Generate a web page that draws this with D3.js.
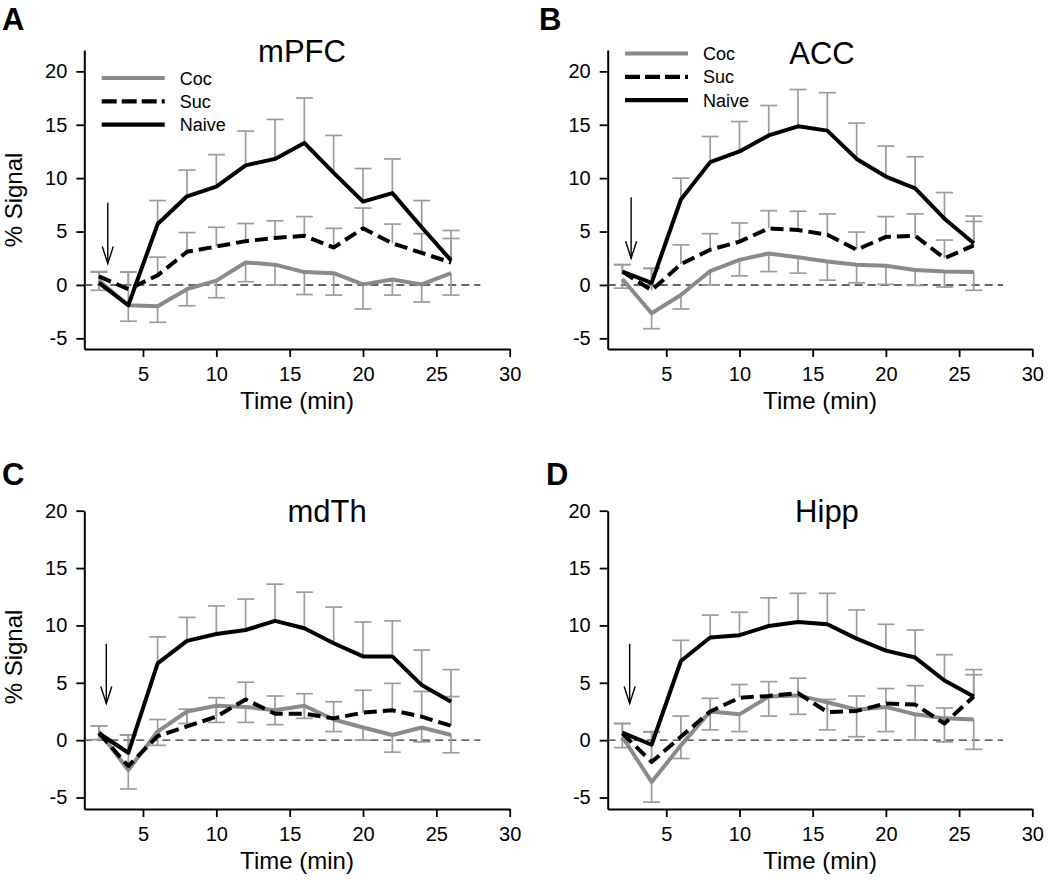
<!DOCTYPE html>
<html>
<head>
<meta charset="utf-8">
<script src="https://cdn.jsdelivr.net/npm/d3@7"></script>
<style>
  html, body { margin: 0; padding: 0; background: #fff; }
  svg { display: block; font-family: "Liberation Sans", Arial, sans-serif; }
</style>
</head>
<body>
<svg id="chart" width="1050" height="885"></svg>
<script>
// ---- data ----
const times = [2, 4, 6, 8, 10, 12, 14, 16, 18, 20, 22, 24, 26];
const xTicks = [5, 10, 15, 20, 25, 30];
const yTicks = [-5, 0, 5, 10, 15, 20];
const seriesNames = ["Coc", "Suc", "Naive"];

// mPFC
const mpfcCoc      = [0.4, -1.9, -2.0, -0.4, 0.4, 2.1, 1.9, 1.2, 1.1, 0.05, 0.5, 0.05, 1.1];
const mpfcCocErr   = [0.9, 1.5, 1.5, 1.55, 1.6, 1.8, 1.9, 2.1, 2.05, 2.3, 1.45, 1.65, 2.05];
const mpfcSuc      = [0.8, -0.4, 0.9, 3.1, 3.6, 4.1, 4.4, 4.6, 3.5, 5.3, 3.9, 3.0, 2.1];
const mpfcSucErr   = [0.45, 1.6, 1.7, 1.8, 1.8, 1.65, 1.6, 1.8, 1.8, 1.9, 1.8, 1.8, 2.25];
const mpfcNaive    = [0.2, -1.9, 5.7, 8.3, 9.2, 11.2, 11.8, 13.3, 10.5, 7.8, 8.6, 5.4, 2.3];
const mpfcNaiveErr = [1.0, 3.1, 2.2, 2.45, 3.0, 3.2, 3.7, 4.2, 3.5, 3.1, 3.2, 2.5, 2.8];

// ACC
const accCoc      = [0.55, -2.65, -0.95, 1.3, 2.35, 2.95, 2.6, 2.2, 1.9, 1.8, 1.4, 1.25, 1.2];
const accCocErr   = [0.85, 1.45, 1.3, 1.3, 1.5, 1.7, 1.5, 1.75, 1.7, 1.75, 1.45, 1.45, 1.7];
const accSuc      = [1.25, -0.5, 1.95, 3.3, 4.05, 5.3, 5.15, 4.7, 3.3, 4.5, 4.6, 2.5, 3.7];
const accSucErr   = [0.65, 2.05, 1.8, 1.5, 1.75, 1.65, 1.75, 1.95, 1.65, 1.9, 2.05, 1.7, 2.25];
const accNaive    = [1.25, 0.2, 8.0, 11.5, 12.5, 14.0, 14.85, 14.45, 11.8, 10.15, 9.05, 6.2, 3.9];
const accNaiveErr = [0.65, 1.35, 2.0, 2.4, 2.8, 2.8, 3.45, 3.55, 3.35, 2.85, 2.95, 2.45, 2.55];

// mdTh
const mdthCoc      = [0.75, -2.6, 0.75, 2.5, 3.0, 2.9, 2.6, 3.0, 1.8, 1.1, 0.45, 1.1, 0.45];
const mdthCocErr   = [0.7, 1.65, 1.2, 1.05, 1.45, 1.35, 1.25, 1.1, 1.05, 1.1, 1.5, 1.25, 1.55];
const mdthSuc      = [0.6, -2.25, 0.35, 1.2, 2.05, 3.55, 2.3, 2.3, 1.9, 2.4, 2.6, 2.05, 1.25];
const mdthSucErr   = [0.65, 2.7, 1.45, 1.5, 1.65, 1.5, 1.55, 1.75, 1.45, 1.95, 2.35, 2.2, 2.55];
const mdthNaive    = [0.6, -1.1, 6.7, 8.65, 9.25, 9.6, 10.4, 9.75, 8.45, 7.3, 7.3, 4.8, 3.35];
const mdthNaiveErr = [0.65, 1.55, 2.3, 2.05, 2.45, 2.7, 3.2, 3.15, 3.15, 3.0, 3.1, 3.05, 2.8];

// Hipp
const hippCoc      = [0.3, -3.65, -0.45, 2.5, 2.25, 3.8, 3.9, 3.3, 2.65, 2.9, 2.25, 1.9, 1.8];
const hippCocErr   = [0.95, 1.75, 1.15, 1.6, 1.5, 1.7, 1.65, 2.4, 2.35, 2.15, 2.25, 2.05, 2.6];
const hippSuc      = [0.6, -1.9, 0.3, 2.5, 3.7, 3.85, 4.1, 2.45, 2.55, 3.2, 3.1, 1.45, 3.8];
const hippSucErr   = [0.85, 2.6, 1.8, 1.15, 1.15, 1.25, 1.3, 1.1, 1.3, 1.3, 1.65, 1.35, 1.9];
const hippNaive    = [0.65, -0.4, 6.9, 8.95, 9.15, 9.95, 10.3, 10.1, 8.85, 7.8, 7.2, 5.2, 3.8];
const hippNaiveErr = [0.8, 1.15, 1.8, 1.95, 2.0, 2.45, 2.5, 2.7, 2.5, 2.3, 2.4, 2.25, 2.35];

// injection arrow (time, top value, tip value)
const arrowTime = [2.6, 2.6, 2.5, 2.5];
const arrowTop  = [7.7, 8.2, 8.4, 8.4];
const arrowTip  = [2.0, 2.5, 3.2, 3.2];

const panelLetters = ["A", "B", "C", "D"];
const panelTitles = ["mPFC", "ACC", "mdTh", "Hipp"];
const panelData = [
  {coc: mpfcCoc, cocErr: mpfcCocErr, suc: mpfcSuc, sucErr: mpfcSucErr, naive: mpfcNaive, naiveErr: mpfcNaiveErr},
  {coc: accCoc, cocErr: accCocErr, suc: accSuc, sucErr: accSucErr, naive: accNaive, naiveErr: accNaiveErr},
  {coc: mdthCoc, cocErr: mdthCocErr, suc: mdthSuc, sucErr: mdthSucErr, naive: mdthNaive, naiveErr: mdthNaiveErr},
  {coc: hippCoc, cocErr: hippCocErr, suc: hippSuc, sucErr: hippSucErr, naive: hippNaive, naiveErr: hippNaiveErr}
];

// ---- layout ----
const layout = [
  {x0: 84.3, x1: 509.7, y0: 349, y1: 50, yMax: 22, title: [302, 62], letter: [2, 30], legend: [101.7, 78], ylabel: 200},
  {x0: 607.7, x1: 1032.3, y0: 349, y1: 50, yMax: 22, title: [822, 64], letter: [539, 30], legend: [625, 53.5], ylabel: null},
  {x0: 84.3, x1: 509.7, y0: 809, y1: 510.7, yMax: 20, title: [327, 522], letter: [2, 485], legend: null, ylabel: 657},
  {x0: 607.7, x1: 1032.3, y0: 809, y1: 510.7, yMax: 20, title: [827, 522], letter: [546, 485], legend: null, ylabel: null}
];

const cocColor = "#8a8a8a";
const errColor = "#9c9c9c";
const styles = {
  Coc:   {stroke: cocColor, dash: null, width: 4},
  Suc:   {stroke: "#000", dash: "13,6", width: 4},
  Naive: {stroke: "#000", dash: null, width: 4}
};

const svg = d3.select("#chart");

layout.forEach((L, i) => {
  const d = panelData[i];
  const x = d3.scaleLinear().domain([1, 30]).range([L.x0, L.x1]);
  const y = d3.scaleLinear().domain([-6, L.yMax]).range([L.y0, L.y1]);
  const g = svg.append("g");

  // axes
  const xAxis = d3.axisBottom(x).tickValues(xTicks).tickSizeInner(8).tickSizeOuter(0).tickPadding(10).tickFormat(v => String(v));
  const yAxis = d3.axisLeft(y).tickValues(yTicks).tickSizeInner(8).tickSizeOuter(0).tickPadding(9).tickFormat(v => String(v));
  const gx = g.append("g").attr("transform", `translate(0,${L.y0})`).call(xAxis);
  const gy = g.append("g").attr("transform", `translate(${L.x0},0)`).call(yAxis);
  [gx, gy].forEach(a => {
    a.select(".domain").attr("stroke", "#000").attr("stroke-width", 2);
    a.selectAll(".tick line").attr("stroke", "#000").attr("stroke-width", 1.8);
    a.selectAll(".tick text").attr("fill", "#000").style("font-size", "20px").style("font-family", "'Liberation Sans', Arial, sans-serif");
  });

  // axis labels
  g.append("text").attr("x", (L.x0 + L.x1) / 2).attr("y", L.y0 + 60)
    .attr("text-anchor", "middle").style("font-size", "24px").text("Time (min)");
  if (L.ylabel !== null) {
    g.append("text").attr("transform", `translate(22,${L.ylabel}) rotate(-90)`)
      .attr("text-anchor", "middle").style("font-size", "24px").text("% Signal");
  }

  // title & panel letter
  g.append("text").attr("x", L.title[0]).attr("y", L.title[1]).attr("text-anchor", "middle")
    .style("font-size", "31px").text(panelTitles[i]);
  g.append("text").attr("x", L.letter[0]).attr("y", L.letter[1])
    .style("font-size", "31px").style("font-weight", "bold").text(panelLetters[i]);

  // zero reference line
  g.append("line").attr("x1", x(1)).attr("x2", x(28)).attr("y1", y(0)).attr("y2", y(0))
    .attr("stroke", "#333").attr("stroke-width", 1.4).attr("stroke-dasharray", "8,5");

  // error bars
  const bars = [
    {vals: d.coc, err: d.cocErr, dir: -1},
    {vals: d.suc, err: d.sucErr, dir: 1},
    {vals: d.naive, err: d.naiveErr, dir: 1}
  ];
  bars.forEach(b => {
    times.forEach((t, k) => {
      const end = b.vals[k] + b.dir * b.err[k];
      g.append("line").attr("x1", x(t)).attr("x2", x(t)).attr("y1", y(b.vals[k])).attr("y2", y(end))
        .attr("stroke", errColor).attr("stroke-width", 1.7);
      g.append("line").attr("x1", x(t) - 8.5).attr("x2", x(t) + 8.5).attr("y1", y(end)).attr("y2", y(end))
        .attr("stroke", errColor).attr("stroke-width", 1.7);
    });
  });

  // series lines
  const line = d3.line().x((v, k) => x(times[k])).y(v => y(v));
  const seriesVals = {Coc: d.coc, Suc: d.suc, Naive: d.naive};
  seriesNames.forEach(name => {
    const s = styles[name];
    g.append("path").datum(seriesVals[name]).attr("d", line)
      .attr("fill", "none").attr("stroke", s.stroke).attr("stroke-width", s.width)
      .attr("stroke-linejoin", "round").attr("stroke-dasharray", s.dash);
  });

  // injection arrow
  const ax = x(arrowTime[i]), aTop = y(arrowTop[i]), aTip = y(arrowTip[i]);
  g.append("line").attr("x1", ax).attr("x2", ax).attr("y1", aTop).attr("y2", aTip)
    .attr("stroke", "#000").attr("stroke-width", 1.4);
  g.append("path").attr("d", `M${ax - 5.5},${aTip - 17} L${ax},${aTip} L${ax + 5.5},${aTip - 17}`)
    .attr("fill", "none").attr("stroke", "#000").attr("stroke-width", 1.4);

  // legend
  if (L.legend) {
    seriesNames.forEach((name, k) => {
      const s = styles[name];
      const ly = L.legend[1] + k * 23.3;
      g.append("line").attr("x1", L.legend[0]).attr("x2", L.legend[0] + 63).attr("y1", ly).attr("y2", ly)
        .attr("stroke", s.stroke).attr("stroke-width", 4.2).attr("stroke-dasharray", s.dash ? "15,5" : null);
      g.append("text").attr("x", L.legend[0] + 78).attr("y", ly + 6.5).style("font-size", "18px").text(name);
    });
  }
});
</script>
</body>
</html>
